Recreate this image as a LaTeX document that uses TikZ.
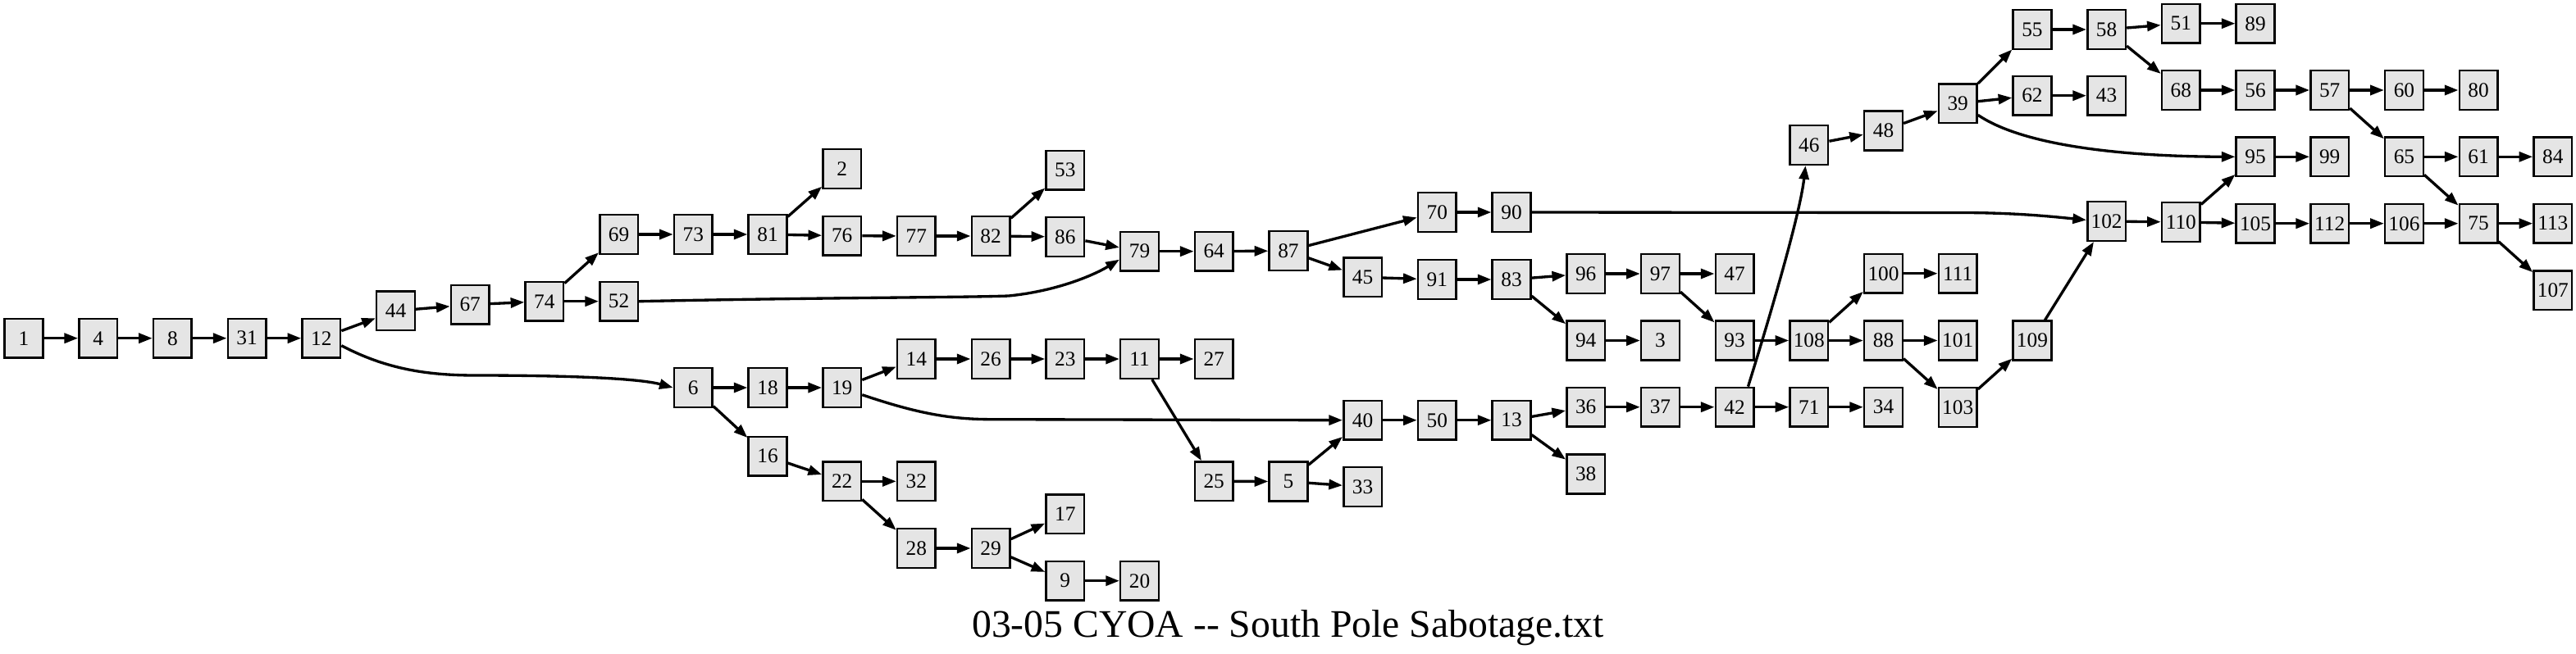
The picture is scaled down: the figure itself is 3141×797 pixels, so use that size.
\documentclass[tikz,border=0pt]{standalone}
\usepackage{fontspec}
\setmainfont{Liberation Serif}
\usetikzlibrary{arrows.meta,calc}

\begin{document}
\begin{tikzpicture}[x=0.3pt,y=-0.3pt,
	pg/.style={draw,line width=0.75pt,fill=gray!20,minimum width=14pt,minimum height=14.3pt,inner sep=0pt,font=\fontsize{7.6}{8}\selectfont},
	edge/.style={-{Triangle[length=5pt,width=3.6pt]},line width=1pt}]
	\useasboundingbox (0,0) rectangle (3141,797);
	% pages: name/rank/y
	\foreach \n/\r/\y in {1/0/412.7, 4/1/412.7, 8/2/412.7, 31/3/412.7, 12/4/412.7,
		44/5/379.3, 67/6/371.7, 74/7/367.7, 69/8/286, 52/8/367.7, 73/9/286, 81/10/286,
		2/11/206, 76/11/287.7, 77/12/288, 82/13/288, 53/14/207.7, 86/14/289, 79/15/306.7,
		64/16/306.7, 87/17/306, 6/9/473, 18/10/473, 19/11/473, 16/10/556.7, 22/11/587.3,
		32/12/587.3, 28/12/669, 29/13/669, 17/14/627.3, 9/14/708.7, 20/15/708.7,
		14/12/438, 26/13/438, 23/14/438, 11/15/438, 27/16/438, 25/16/587.3, 5/17/587.5,
		33/18/594, 40/18/512.7, 50/19/512.7, 13/20/512.7, 36/21/496.7, 38/21/578.5,
		37/22/496.7, 42/23/496.7, 71/24/496.7, 34/25/496.7, 70/19/259, 90/20/259,
		45/18/338.3, 91/19/341, 83/20/341, 96/21/334, 97/22/334, 47/23/334,
		94/21/415.5, 3/22/415.5, 93/23/415.5, 108/24/415.5, 88/25/415.5, 101/26/415.5,
		100/25/333.7, 111/26/333.7, 103/26/497, 109/27/415.5, 46/24/177, 48/25/159.5,
		39/26/126.3, 55/27/36, 58/28/36, 51/29/28.7, 89/30/28.7, 62/27/116.7, 43/28/116.7,
		68/29/110, 56/30/110, 57/31/110, 60/32/110, 80/33/110, 95/30/191.3, 99/31/191.3,
		65/32/191.3, 61/33/191.3, 84/34/191.3, 102/28/270, 110/29/271, 105/30/272.7,
		112/31/272.7, 106/32/272.7, 75/33/272.7, 113/34/272.7, 107/34/354.3}
		\node[pg] (n\n) at (29+90.7*\r,\y) {\n};
	% straight links
	\foreach \a/\b in {1/4, 4/8, 8/31, 31/12, 12/44, 44/67, 67/74, 74/69, 74/52,
		69/73, 73/81, 81/2, 81/76, 76/77, 77/82, 82/53, 82/86, 86/79, 79/64, 64/87,
		87/70, 87/45, 70/90, 45/91, 91/83, 83/96, 83/94, 96/97, 97/47, 97/93, 94/3,
		93/108, 108/100, 108/88, 100/111, 88/101, 88/103, 103/109, 109/102,
		6/18, 6/16, 18/19, 19/14, 14/26, 26/23, 23/11, 11/27, 11/25, 25/5, 5/40, 5/33,
		40/50, 50/13, 13/36, 13/38, 36/37, 37/42, 42/71, 71/34, 46/48, 48/39,
		39/55, 39/62, 55/58, 58/51, 58/68, 51/89, 62/43, 68/56, 56/57, 57/60, 57/65,
		60/80, 65/61, 65/75, 61/84, 95/99, 102/110, 110/95, 110/105, 105/112,
		112/106, 106/75, 75/113, 75/107, 16/22, 22/32, 22/28, 28/29, 29/17, 29/9, 9/20}
		\draw[edge] (n\a) -- (n\b);
	% curved links
	\draw[edge] ($(n12.east)+(0,9)$) .. controls (470,450) and (520,458) .. (580,458) .. controls (700,458) and (780,462) .. (n6.west);
	\draw[edge] ($(n19.east)+(0,8.7)$) .. controls (1120,505) and (1160,511.7) .. (1210,511.7) -- (n40.west);
	\draw[edge] (n52.east) .. controls (1000,363) and (1180,363) .. (1230,361) .. controls (1290,355) and (1335,335) .. ($(n79.west)+(0,10)$);
	\draw[edge] (n90.east) -- (2400,259.5) .. controls (2460,260) and (2500,264) .. ($(n102.west)+(0,-1.5)$);
	\draw[edge] ($(n39.east)+(0,14)$) .. controls (2470,180) and (2600,191) .. (n95.west);
	\draw[edge] ($(n42.north)+(16.4,0)$) .. controls (2160,380) and (2195,260) .. ($(n46.south)+(-4.3,0)$);
	\node[anchor=base,font=\fontsize{14.3}{16}\selectfont] (title) at (1570.5,777) {03-05 CYOA -\kern0pt- South Pole Sabotage.txt};
\end{tikzpicture}
\end{document}
